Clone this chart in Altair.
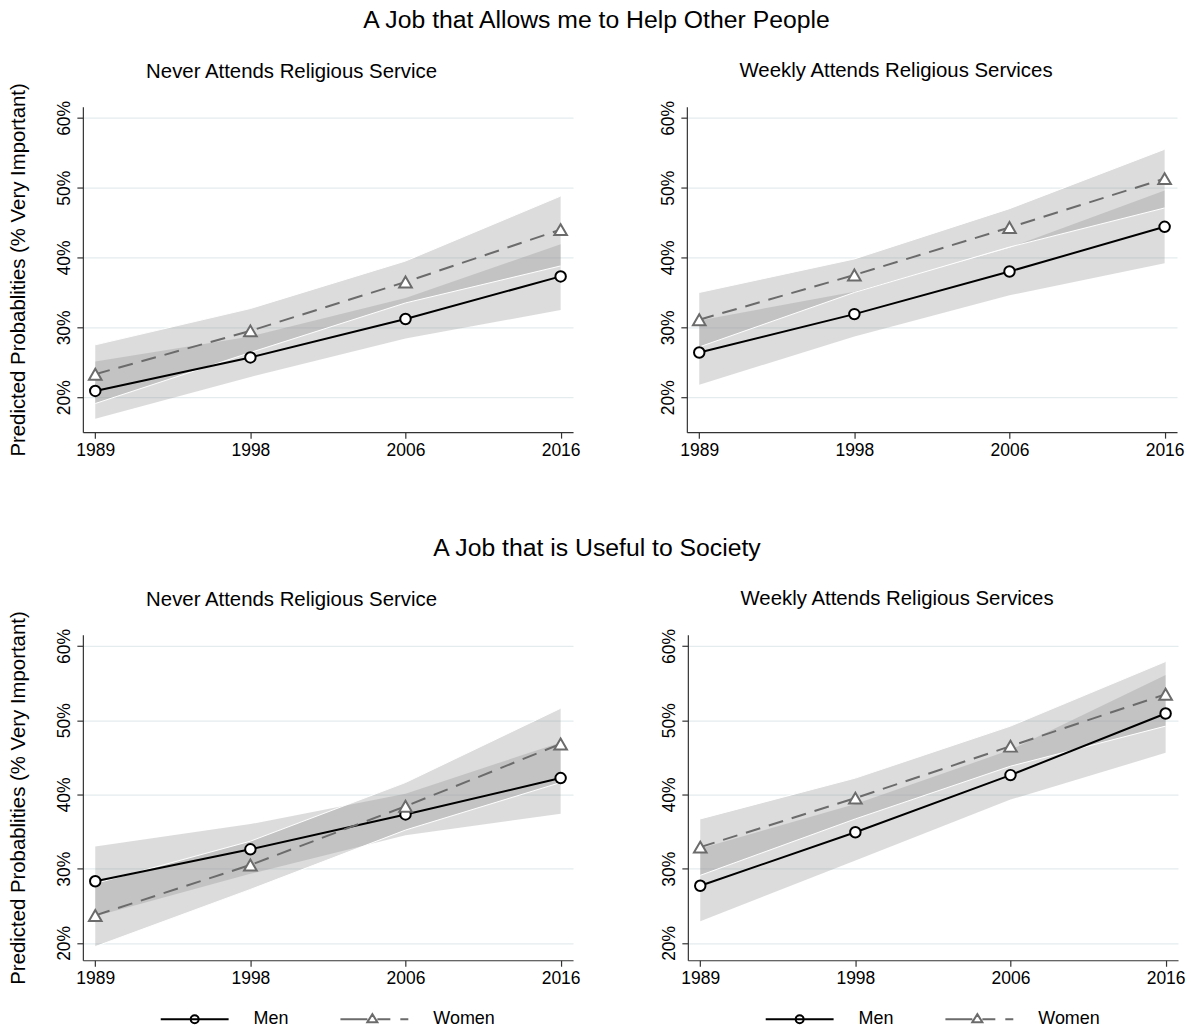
import altair as alt
import pandas as pd

# ---- data -------------------------------------------------------------
YEARS = ["1989", "1998", "2006", "2016"]
SERIES = ["Men", "Women"]
LINE_COLORS = ["#000000", "#6b6b6b"]

# A job that allows me to help other people / never attends
HELP_NEVER_MEN = [20.9, 25.7, 31.2, 37.3]
HELP_NEVER_MEN_LO = [16.9, 22.9, 28.4, 32.5]
HELP_NEVER_MEN_HI = [25.1, 28.7, 34.2, 41.9]
HELP_NEVER_WOMEN = [23.3, 29.5, 36.5, 44.0]
HELP_NEVER_WOMEN_LO = [19.1, 26.4, 33.5, 38.8]
HELP_NEVER_WOMEN_HI = [27.5, 32.7, 39.5, 48.8]

# A job that allows me to help other people / weekly attends
HELP_WEEKLY_MEN = [26.4, 31.9, 38.0, 44.4]
HELP_WEEKLY_MEN_LO = [21.8, 28.7, 34.6, 39.2]
HELP_WEEKLY_MEN_HI = [31.0, 35.1, 41.4, 49.6]
HELP_WEEKLY_WOMEN = [31.1, 37.5, 44.3, 51.3]
HELP_WEEKLY_WOMEN_LO = [27.2, 35.0, 41.5, 47.1]
HELP_WEEKLY_WOMEN_HI = [35.0, 39.8, 47.0, 55.5]

# A job that is useful to society / never attends
USEFUL_NEVER_MEN = [28.3, 32.6, 37.3, 42.2]
USEFUL_NEVER_MEN_LO = [23.6, 29.3, 34.5, 37.4]
USEFUL_NEVER_MEN_HI = [33.0, 36.0, 40.1, 47.0]
USEFUL_NEVER_WOMEN = [23.7, 30.5, 38.4, 46.8]
USEFUL_NEVER_WOMEN_LO = [19.5, 27.2, 35.2, 41.6]
USEFUL_NEVER_WOMEN_HI = [28.0, 33.7, 41.6, 51.6]

# A job that is useful to society / weekly attends
USEFUL_WEEKLY_MEN = [27.7, 34.9, 42.6, 50.9]
USEFUL_WEEKLY_MEN_LO = [22.9, 31.1, 39.3, 45.6]
USEFUL_WEEKLY_MEN_HI = [32.7, 38.7, 46.0, 56.1]
USEFUL_WEEKLY_WOMEN = [32.9, 39.5, 46.5, 53.5]
USEFUL_WEEKLY_WOMEN_LO = [29.1, 36.7, 43.8, 49.2]
USEFUL_WEEKLY_WOMEN_HI = [36.7, 42.2, 49.2, 57.9]

Y_TICKS = [20, 30, 40, 50, 60]
Y_TITLE = "Predicted Probablities (% Very Important)"

FONT = "Liberation Sans"
BAND_GRAY = "#8c8c8c"

# legend glyphs: solid line with a hollow circle / dashed line with a triangle
MEN_GLYPH = ("M-3.4,0H3.4M0.4,0A0.4,0.4 0 1,1 -0.4,0A0.4,0.4 0 1,1 0.4,0")
WOMEN_GLYPH = ("M-3.4,0H-0.7M0.3,0H1.6M2.6,0H3.4"
               "M-0.7,0.3L-0.2,-0.5L0.3,0.3Z")

PANEL_W = 491
PANEL_H = 326


def panel(men, men_lo, men_hi, women, women_lo, women_hi,
          subtitle, ydomain, ytitle, title_dx, title_offset, with_legend):
    rows = []
    for name, est, lo, hi in (("Men", men, men_lo, men_hi),
                              ("Women", women, women_lo, women_hi)):
        for yr, e, l, h in zip(YEARS, est, lo, hi):
            rows.append({"year": yr, "series": name, "est": e, "lo": l, "hi": h})
    df = pd.DataFrame(rows)

    x = alt.X("year:O", sort=YEARS,
              scale=alt.Scale(type="point", padding=0.08),
              axis=alt.Axis(title=None, labelAngle=0, grid=False,
                            labelPadding=3))

    def y(field):
        return alt.Y(f"{field}:Q",
                     scale=alt.Scale(domain=ydomain, nice=False, zero=False),
                     axis=alt.Axis(title=ytitle, values=Y_TICKS,
                                   labelExpr="datum.value + '%'",
                                   grid=True, labelAngle=-90,
                                   labelAlign="center", labelBaseline="bottom",
                                   labelPadding=3, titlePadding=27))

    base = alt.Chart(df)
    men_c = base.transform_filter(alt.datum.series == "Men")
    women_c = base.transform_filter(alt.datum.series == "Women")

    layers = [
        men_c.mark_area(color=BAND_GRAY, opacity=0.3).encode(
            x=x, y=y("lo"), y2="hi:Q"),
        women_c.mark_area(color=BAND_GRAY, opacity=0.3).encode(
            x=x, y=y("lo"), y2="hi:Q"),
        women_c.mark_line(color="white", strokeWidth=1).encode(x=x, y=y("lo")),
        women_c.mark_line(color="white", strokeWidth=1).encode(x=x, y=y("hi")),
        men_c.mark_line(color=LINE_COLORS[0], strokeWidth=2).encode(
            x=x, y=y("est")),
        women_c.mark_line(color=LINE_COLORS[1], strokeWidth=2,
                          strokeDash=[15, 9]).encode(x=x, y=y("est")),
        men_c.mark_point(shape="circle", filled=True, fill="white",
                         stroke=LINE_COLORS[0], strokeWidth=2, size=110,
                         opacity=1).encode(x=x, y=y("est")),
        women_c.mark_point(shape="triangle-up", filled=True, fill="white",
                           stroke=LINE_COLORS[1], strokeWidth=2, size=160,
                           opacity=1).encode(x=x, y=y("est")),
    ]

    if with_legend:
        leg = alt.Legend(orient="none", legendX=101, legendY=374,
                         direction="horizontal", title=None,
                         symbolSize=400, symbolStrokeWidth=2,
                         symbolFillColor="transparent", symbolOpacity=1,
                         labelFontSize=18, labelFont=FONT, labelColor="#000",
                         labelOffset=48, columnPadding=47, padding=0)
        layers.append(
            base.mark_point(opacity=0, filled=False).encode(
                x=x, y=y("est"),
                shape=alt.Shape("series:N",
                                scale=alt.Scale(domain=SERIES,
                                                range=[MEN_GLYPH, WOMEN_GLYPH]),
                                legend=leg),
                color=alt.Color("series:N",
                                scale=alt.Scale(domain=SERIES,
                                                range=LINE_COLORS),
                                legend=leg),
            ))

    return alt.layer(*layers).properties(
        width=PANEL_W, height=PANEL_H,
        title=alt.TitleParams(subtitle, fontSize=20.4, fontWeight="normal",
                              font=FONT, color="#000", anchor="middle",
                              frame="bounds", dx=title_dx,
                              offset=title_offset),
    )


TOP_DOMAIN = [15.0, 61.6]
BOTTOM_DOMAIN = [17.66, 61.5]

tl = panel(HELP_NEVER_MEN, HELP_NEVER_MEN_LO, HELP_NEVER_MEN_HI,
           HELP_NEVER_WOMEN, HELP_NEVER_WOMEN_LO, HELP_NEVER_WOMEN_HI,
           "Never Attends Religious Service", TOP_DOMAIN, Y_TITLE, -3, 0,
           False)
tr = panel(HELP_WEEKLY_MEN, HELP_WEEKLY_MEN_LO, HELP_WEEKLY_MEN_HI,
           HELP_WEEKLY_WOMEN, HELP_WEEKLY_WOMEN_LO, HELP_WEEKLY_WOMEN_HI,
           "Weekly Attends Religious Services", TOP_DOMAIN, None, -26, 19,
           False)
bl = panel(USEFUL_NEVER_MEN, USEFUL_NEVER_MEN_LO, USEFUL_NEVER_MEN_HI,
           USEFUL_NEVER_WOMEN, USEFUL_NEVER_WOMEN_LO, USEFUL_NEVER_WOMEN_HI,
           "Never Attends Religious Service", BOTTOM_DOMAIN, Y_TITLE, -3, 0,
           True)
br = panel(USEFUL_WEEKLY_MEN, USEFUL_WEEKLY_MEN_LO, USEFUL_WEEKLY_MEN_HI,
           USEFUL_WEEKLY_WOMEN, USEFUL_WEEKLY_WOMEN_LO, USEFUL_WEEKLY_WOMEN_HI,
           "Weekly Attends Religious Services", BOTTOM_DOMAIN, None, -26, 19,
           True)


def row(left, right, heading):
    return alt.hconcat(
        left, right, spacing=79,
        title=alt.TitleParams(heading, fontSize=24.8, fontWeight="normal",
                              font=FONT, color="#000", anchor="middle",
                              offset=28),
    ).resolve_scale(x="independent", y="independent",
                    color="independent", shape="independent"
                    ).resolve_legend(color="independent", shape="independent")


chart = alt.vconcat(
    row(tl, tr, "A Job that Allows me to Help Other People"),
    row(bl, br, "A Job that is Useful to Society"),
    spacing=77,
).resolve_scale(
    x="independent", y="independent"
).properties(
    padding={"left": 9, "top": 7, "right": 5, "bottom": 5},
    background="white",
).configure(
    font=FONT,
).configure_view(
    stroke=None,
).configure_axis(
    domainColor="#333333", domainWidth=1.2,
    tickColor="#333333", tickWidth=1.2, tickSize=6,
    labelFont=FONT, labelFontSize=17.5, labelColor="#000000",
    titleFont=FONT, titleFontSize=20.4, titleFontWeight="normal",
    titleColor="#000000",
    gridColor="#e4ecee", gridWidth=1.2,
)

chart.save("out.html", embed_options={"renderer": "svg", "actions": False})
